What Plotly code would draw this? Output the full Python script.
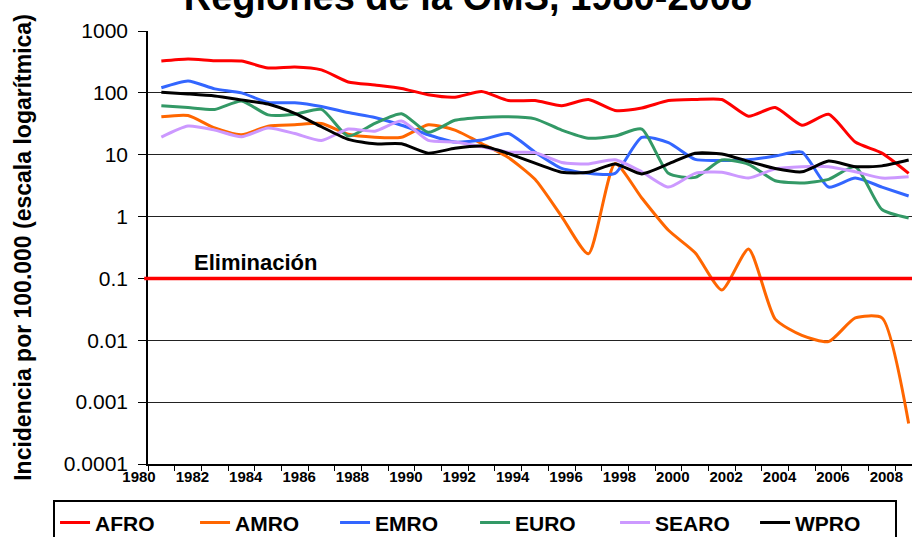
import plotly.graph_objects as go

years = list(range(1980, 2009))
afro  = [327, 353, 330, 327, 252, 262, 235, 150, 134, 118, 93, 85, 105, 75, 75, 62, 78, 52, 57, 75, 78, 78, 42, 58, 30, 45, 16, 10.6, 5.0]
amro  = [41, 43, 27, 21, 29, 30.5, 32, 21.4, 19.2, 19.2, 30.5, 25, 15.2, 9, 4, 1.0, 0.25, 7.2, 2.0, 0.6, 0.26, 0.065, 0.3, 0.022, 0.012, 0.0095, 0.023, 0.023, 0.00045]
emro  = [121, 156, 116, 100, 70, 69, 60, 48, 40, 30, 21, 16, 17.3, 22, 11, 6, 5, 5, 19, 15.7, 8.4, 8.1, 8.3, 9.5, 11, 3.0, 4.2, 3.0, 2.15]
euro  = [62, 58, 54, 74, 44, 45, 54, 20, 32, 46, 23, 36, 40, 41, 38, 25, 18.5, 20, 26, 5, 4.3, 8.2, 7.0, 3.8, 3.5, 4.0, 6.4, 1.3, 0.95]
searo = [19.2, 29, 25, 19.5, 27, 22, 17, 26, 24, 35, 17, 16, 13.4, 11, 10.8, 7.5, 7.1, 8.3, 5.3, 3.0, 5.0, 5.2, 4.2, 5.9, 6.4, 6.4, 5.3, 4.2, 4.4]
wpro  = [102, 96, 89, 77, 66, 46.5, 28.3, 17.7, 15, 15, 10.6, 12.7, 13.8, 10.5, 7.3, 5.2, 5.2, 7.1, 4.9, 7.1, 10.6, 10.3, 7.8, 6.0, 5.3, 7.9, 6.4, 6.6, 8.2]

names  = ["AFRO", "AMRO", "EMRO", "EURO", "SEARO", "WPRO"]
colors = ["#FF0000", "#FF6600", "#3366FF", "#339966", "#CC99FF", "#000000"]
values = [afro, amro, emro, euro, searo, wpro]

elimination = 0.1
y_ticks = [0.0001, 0.001, 0.01, 0.1, 1, 10, 100, 1000]
y_tick_text = ["0.0001", "0.001", "0.01", "0.1", "1", "10", "100", "1000"]
label_years = list(range(1980, 2009, 2))

FONT = "Liberation Sans, Arial, sans-serif"

fig = go.Figure()
for n, v, c in zip(names, values, colors):
    fig.add_trace(go.Scatter(x=years, y=v, name=n, mode="lines",
                             line=dict(color=c, width=3, shape="spline", smoothing=0.6)))

fig.add_shape(type="line", xref="paper", x0=-0.005, x1=1, yref="y",
              y0=elimination, y1=elimination, line=dict(color="#FF0000", width=3.5))

fig.add_annotation(text="<b>Eliminación</b>", xref="paper", x=0.057, xanchor="left",
                   yref="y", y=-1, yanchor="bottom", yshift=1, showarrow=False,
                   font=dict(family=FONT, size=22, color="black"))

fig.update_layout(
    width=912, height=537,
    margin=dict(l=148, r=0, t=31, b=73, autoexpand=False),
    paper_bgcolor="white", plot_bgcolor="white",
    font=dict(family=FONT, color="black"),
    title=dict(text="<b>Regiones de la OMS, 1980-2008</b>", x=0.513, xanchor="center",
               xref="container", yref="container", y=0.982, yanchor="bottom",
               font=dict(family=FONT, size=38, color="black")),
    legend=dict(orientation="h", xref="paper", yref="paper",
                x=-0.1243, xanchor="left", y=-0.084, yanchor="top",
                bordercolor="black", borderwidth=2,
                font=dict(family=FONT, size=21, color="black", weight="bold"),
                itemwidth=30, entrywidth=95, entrywidthmode="pixels"),
)

fig.update_xaxes(range=[1979.5, 2008.125], showgrid=False, zeroline=False,
                 showline=True, linecolor="black", linewidth=1.5,
                 tickmode="array", tickvals=[y - 0.5 for y in label_years],
                 ticktext=[str(y) for y in label_years],
                 ticks="outside", ticklen=5, tickcolor="black", tickwidth=1,
                 ticklabelshift=-9, ticklabelstandoff=-7,
                 minor=dict(ticks="outside", tick0=1979.5, dtick=1, ticklen=5,
                            tickcolor="black", tickwidth=1),
                 tickfont=dict(family=FONT, size=15, color="black", weight="bold"))

fig.update_yaxes(type="log", range=[-4, 3], tickmode="array", tickvals=y_ticks,
                 ticktext=y_tick_text, showgrid=True, gridcolor="#222222", gridwidth=1,
                 showline=True, linecolor="black", linewidth=1.5, zeroline=False,
                 ticks="outside", ticklen=8, tickcolor="black",
                 ticklabelstandoff=6,
                 tickfont=dict(family=FONT, size=21, color="black"),
                 title=dict(text="<b>Incidencia por 100.000 (escala logarítmica)</b>",
                            font=dict(family=FONT, size=23, color="black"), standoff=26))

fig.write_html("out.html", config={"displayModeBar": False},
               post_script="document.body.style.margin='0';")
